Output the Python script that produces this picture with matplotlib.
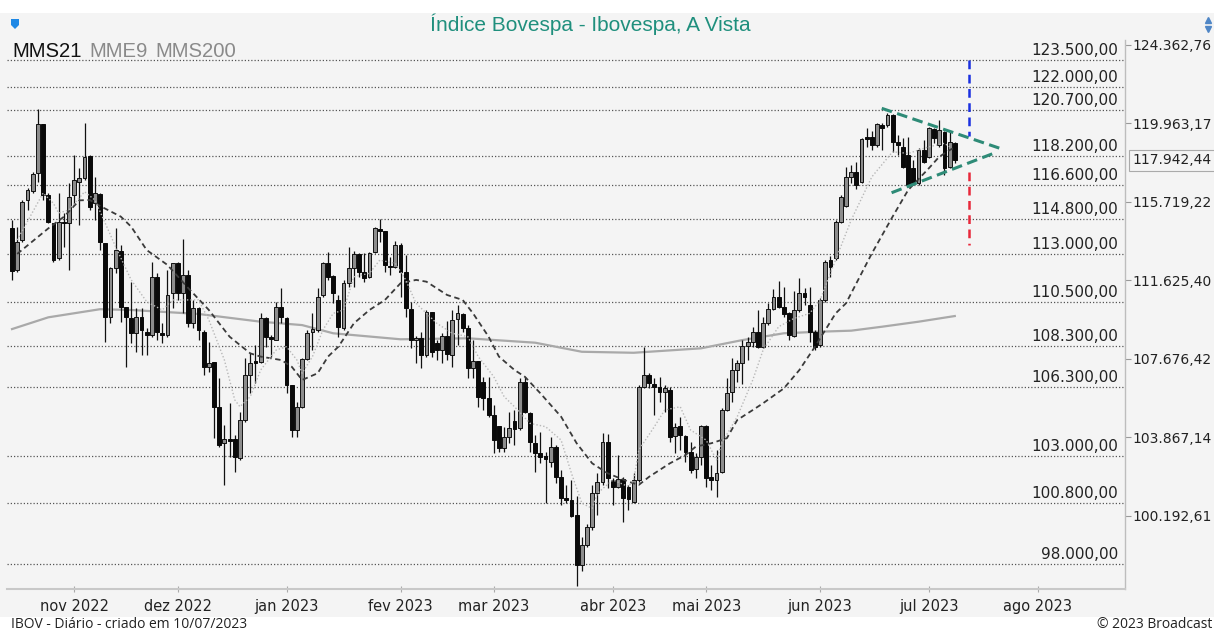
import numpy as np
import matplotlib
matplotlib.use("Agg")
import matplotlib.pyplot as plt
from matplotlib.lines import Line2D
from matplotlib.patches import Rectangle, Polygon
from matplotlib.ticker import NullLocator
import matplotlib.transforms as mtransforms

# ---------------- data (daily candles, IBOV, 14/10/2022 .. 10/07/2023) ----------------
opens = [114340, 112158, 113712, 115818, 116313, 117245, 119927, 116084, 114603, 112762,
         114670, 114587, 116084, 116794, 116976, 118180, 115643, 116120, 113572, 109781,
         112246, 113156, 110255, 109700, 108948, 109781, 109028, 108864, 111814, 108978,
         108864, 110965, 112504, 110965, 111901, 109450, 110205, 109028, 107292, 107538,
         105341, 103587, 103777, 103777, 102877, 104700, 106885, 107573, 107538, 109700,
         108780, 108614, 110255, 109731, 106395, 104221, 105341, 107657, 109028, 109113,
         110880, 112504, 111850, 110625, 109198, 111476, 112246, 112970, 112070, 111814,
         113104, 114271, 114183, 112364, 112330, 113452, 112070, 110155, 108614, 108699,
         107870, 110033, 108480, 108117, 108814, 107870, 109650, 109916, 109198, 107213,
         107587, 106556, 105745, 104941, 104413, 103349, 103901, 104666, 104302, 106556,
         105052, 103616, 103114, 102986, 102717, 103427, 102013, 101007, 100928, 100236,
         97963, 98866, 99700, 101239, 101780, 103663, 101858, 101547, 101890, 101547,
         100850, 101858, 106278, 106885, 106444, 106278, 106068, 106151, 103935, 104413,
         103935, 103190, 102359, 102953, 104427, 101983, 101858, 102246, 105182, 106068,
         107130, 107459, 108315, 108530, 109028, 108250, 109480, 110155, 110763, 110255,
         109951, 108814, 110119, 110965, 110372, 109028, 108365, 110625, 112674, 112762,
         114670, 115500, 117062, 117332, 116794, 119198, 119232, 118778, 119872, 119872,
         120424, 118957, 118684, 118234, 117515, 116708, 118505, 118142, 119635, 118778,
         119504, 117603, 118902]
highs = [114760, 114408, 115818, 116457, 117332, 120739, 119927, 116190, 114618, 116190,
         115130, 116708, 118234, 117515, 119998, 118234, 117062, 116190, 113572, 112330,
         114324, 113452, 110270, 111558, 110205, 110220, 109213, 112586, 112004, 109465,
         112158, 112519, 112586, 113748, 112158, 110625, 110286, 109113, 108530, 107538,
         106722, 104460, 105506, 103982, 105100, 107705, 107953, 108365, 109983, 109781,
         108864, 110539, 111221, 109781, 106395, 105583, 107705, 109113, 109951, 111221,
         112586, 113104, 111901, 110880, 111645, 113332, 113156, 113021, 113052, 113104,
         114408, 114797, 114183, 112845, 113676, 113572, 112933, 110539, 108814, 109028,
         110119, 110033, 108614, 108948, 109580, 110119, 110372, 109983, 109364, 108614,
         107587, 106804, 106804, 105423, 104413, 104380, 105100, 105182, 106722, 106804,
         105100, 103982, 104141, 103190, 103901, 103507, 102326, 101625, 101858, 101113,
         99243, 99824, 101625, 102172, 104061, 104030, 101937, 103034, 102013, 101625,
         102172, 106395, 108281, 106968, 106722, 106804, 106395, 106314, 104541, 104859,
         103982, 103663, 103114, 104460, 104460, 102561, 103270, 105264, 106722, 107705,
         107622, 108614, 108780, 109279, 110119, 109781, 110458, 111169, 111609, 111303,
         110033, 111063, 111732, 111221, 111303, 109113, 110712, 112674, 112900, 114760,
         116084, 117603, 117693, 117872, 119143, 119690, 119558, 119966, 119966, 120518,
         120479, 119323, 119143, 119232, 117963, 118597, 119050, 119780, 119690, 120147,
         119558, 119504, 118957]
lows = [111645, 112070, 113624, 115288, 116190, 116794, 115818, 114618, 112586, 112674,
        113364, 112158, 115553, 114497, 116885, 115288, 114760, 113192, 108530, 109450,
        111989, 109530, 107292, 108480, 108033, 107870, 107870, 108780, 108614, 108450,
        108780, 110205, 110625, 109951, 109279, 109198, 108614, 106885, 107047, 103825,
        103427, 101625, 102953, 102246, 102797, 104618, 105990, 106478, 107459, 108281,
        107785, 108614, 109450, 105990, 103873, 103901, 105264, 107622, 108117, 109028,
        110793, 111645, 110458, 108780, 109113, 111303, 111303, 111814, 111558, 111732,
        113021, 113624, 112070, 111901, 112246, 110793, 109781, 108201, 107459, 107213,
        107785, 107785, 107622, 107459, 107622, 107292, 108365, 109028, 106722, 106722,
        105341, 105182, 104859, 103114, 103190, 103190, 103587, 103507, 104221, 105023,
        103190, 102246, 102641, 100775, 102480, 101703, 100700, 100775, 100160, 97023,
        97708, 98789, 99548, 100236, 101625, 101471, 100700, 101471, 99928, 100466,
        100803, 101780, 106230, 106230, 104941, 105583, 105100, 103663, 103114, 103270,
        102717, 102172, 101937, 102561, 101547, 101392, 101080, 102172, 105148, 105583,
        106556, 106444, 107622, 108281, 108201, 108201, 109364, 110119, 110205, 109781,
        108614, 108749, 110033, 110372, 108530, 108117, 108281, 110539, 111814, 112674,
        114587, 115463, 116708, 116387, 116741, 118684, 118505, 118684, 118505, 119780,
        118413, 118234, 117515, 116495, 116618, 116618, 117785, 118054, 118870, 118684,
        117154, 117515, 117785]
closes = [112110, 113624, 115728, 116350, 117208, 119927, 116084, 114670, 112674, 114670,
          114618, 115993, 116885, 116976, 118109, 115463, 116173, 113624, 109781, 112246,
          113192, 110286, 109781, 108948, 109781, 109113, 108864, 111814, 109028, 108849,
          110880, 112504, 110965, 111901, 109450, 110205, 109113, 107292, 107489, 105341,
          103507, 103777, 103711, 102953, 104700, 106885, 107459, 107489, 109700, 108780,
          108649, 110255, 109781, 106395, 104221, 105341, 107657, 108978, 109148, 110793,
          112504, 111814, 110965, 109240, 111476, 112246, 112970, 112070, 111732, 113021,
          114324, 114198, 112416, 112297, 113452, 112070, 110205, 108614, 108729, 107870,
          110033, 108033, 108117, 108814, 107919, 109615, 109951, 109198, 107213, 107587,
          105826, 105745, 104941, 103744, 103349, 103901, 104302, 104255, 106556, 105100,
          103663, 103114, 102953, 102830, 103427, 102013, 101007, 100928, 100190, 97963,
          98866, 99672, 101239, 101780, 103663, 101937, 101547, 101890, 101007, 100960,
          101858, 106310, 106885, 106478, 106278, 106068, 106230, 103901, 104380, 103982,
          103190, 102326, 102953, 104427, 101937, 101858, 102200, 105182, 106020, 107130,
          107459, 108315, 108530, 109028, 108281, 109450, 110155, 110763, 110286, 109916,
          108864, 110119, 110965, 110763, 109028, 108281, 110625, 112586, 112330, 114670,
          115993, 117030, 117332, 116618, 119088, 119088, 118778, 119927, 119690, 120424,
          118957, 118778, 117603, 116618, 116708, 118505, 117872, 119690, 119143, 119597,
          117515, 118957, 117942.44]

# moving averages: (day index, value)
mms21_day = [1, 7, 10, 13, 15, 17, 21, 23, 26, 30, 34, 38, 42, 46, 48, 52, 54, 56, 59, 61,
             63, 66, 69, 72, 75, 78, 80, 82, 84, 87, 89, 92, 94, 97, 99, 102, 106, 109, 112,
             115, 119, 121, 123, 127, 130, 132, 135, 138, 140, 143, 145, 149, 152, 155, 159,
             161, 166, 170, 173, 177, 179, 181, 182]
mms21_val = [112990, 114320, 114930, 115800, 115820, 115500, 114940, 114410, 113190, 112420,
             111240, 110120, 108780, 107950, 107790, 107620, 107290, 106640, 106970, 107790,
             108280, 109450, 110120, 110630, 111480, 111650, 111560, 111220, 110880, 110630,
             109950, 108780, 107790, 107130, 106800, 105990, 104860, 103590, 102640, 102170,
             101780, 101630, 102010, 102640, 103030, 103430, 103590, 103830, 104700, 105180,
             105510, 106230, 107130, 108280, 109950, 110460, 113020, 114940, 116350, 117520,
             118140, 118500, 118650]
mme9_day = [1, 6, 8, 9, 11, 14, 16, 18, 20, 23, 26, 29, 31, 36, 38, 41, 43, 44, 46, 48, 51,
            53, 55, 56, 58, 60, 62, 64, 66, 69, 71, 74, 76, 78, 82, 85, 88, 90, 93, 95, 97,
            100, 103, 106, 108, 110, 112, 113, 116, 119, 120, 121, 124, 126, 129, 131, 134,
            136, 137, 140, 143, 145, 148, 151, 154, 156, 158, 162, 166, 170, 173, 177, 180, 181]
mme9_val = [113710, 116190, 115640, 115130, 115290, 116260, 115820, 114590, 113360, 111650,
            110540, 110120, 110630, 110630, 109620, 107620, 105670, 105340, 105830, 107130,
            108120, 108280, 107620, 106970, 107790, 109110, 109950, 110120, 111810, 111990,
            112670, 112500, 111650, 110460, 109450, 108950, 108780, 107790, 106800, 105830,
            105340, 104540, 104380, 103740, 102170, 100780, 100540, 101240, 101860, 101550,
            101860, 103270, 104380, 105180, 105340, 104220, 103740, 102800, 103590, 104860,
            106640, 108120, 109280, 109700, 109950, 110630, 112000, 114760, 117060, 118410,
            118320, 118680, 118870, 118680]
mms200_day = [0, 7, 17, 23, 36, 48, 56, 62, 75, 88, 101, 110, 120, 133, 141, 149, 156, 162,
              168, 175, 182]
mms200_val = [109160, 109750, 110160, 110120, 109920, 109530, 109360, 108950, 108650, 108700,
              108480, 108030, 107980, 108200, 108610, 108950, 109030, 109080, 109280, 109530,
              109815]

levels = [123500, 122000, 120700, 118200, 116600, 114800, 113000, 110500, 108300, 106300,
          103000, 100800, 98000]
axis_ticks = [124362.76, 119963.17, 115719.22, 111625.40, 107676.42, 103867.14, 100192.61]
month_day = [12, 32, 53, 75, 93, 116, 134, 156, 177, 198]
month_labels = ["nov 2022", "dez 2022", "jan 2023", "fev 2023", "mar 2023", "abr 2023",
                "mai 2023", "jun 2023", "jul 2023", "ago 2023"]

# drawn studies (triangle + targets)
tri_upper_day, tri_upper_val = [167.9, 190.7], [120794, 118598]
tri_lower_day, tri_lower_val = [169.8, 189.8], [116206, 118359]
target_day = 184.8
target_up = [123500, 119270]
target_down = [117315, 113452]


def fmt(v):
    s = f"{v:,.2f}"
    return s.replace(",", "X").replace(".", ",").replace("X", ".")


W, H = 1214, 632
fig = plt.figure(figsize=(W / 100, H / 100), dpi=100, facecolor="white")
fig.patches.append(Rectangle((0, (H - 617) / H), 1, (617 - 13) / H, transform=fig.transFigure,
                             facecolor="#f4f4f4", edgecolor="none", zorder=-10))

ax = fig.add_axes([7 / W, (H - 589) / H, (1125 - 7) / W, (589 - 40) / H])
ax.set_facecolor("#f4f4f4")
ax.set_yscale("log")
ax.set_ylim(96890, 124640)
ax.set_xlim(-0.97, 214.86)

# horizontal levels
for lv in levels:
    ax.axhline(lv, color="#555555", lw=0.9, ls=(0, (1, 1.6)), zorder=1)
    ax.annotate(fmt(lv), xy=(0.9937, lv), xycoords=("axes fraction", "data"),
                xytext=(0, 3.6), textcoords="offset points", ha="right", va="baseline",
                fontsize=11, color="#222222", family="DejaVu Sans", zorder=7)

# MMS200
ax.plot(mms200_day, mms200_val, color="#a9a9a9", lw=1.6, zorder=2)

# candles
o = np.array(opens, float)
h = np.array(highs, float)
l = np.array(lows, float)
c = np.array(closes, float)
x = np.arange(len(c))
up = c >= o
ax.vlines(x, l, h, color="#111111", lw=0.9, zorder=3)
bottom = np.minimum(o, c)
height = np.maximum(np.abs(c - o), 30)
ax.bar(x[up], height[up], bottom=bottom[up], width=0.74, color="#8c8c8c",
       edgecolor="#111111", linewidth=0.7, zorder=4)
ax.bar(x[~up], height[~up], bottom=bottom[~up], width=0.74, color="#0a0a0a",
       edgecolor="#0a0a0a", linewidth=0.7, zorder=4)

# moving averages
ax.plot(mms21_day, mms21_val, color="#3a3a3a", lw=1.3, ls=(0, (3, 2)), zorder=5)
ax.plot(mme9_day, mme9_val, color="#b8b8b8", lw=1.0, ls=(0, (1, 1.5)), zorder=5)

# triangle and targets
ax.plot(tri_upper_day, tri_upper_val, color="#2e8b77", lw=2.2, ls=(0, (3.5, 1.8)), zorder=6)
ax.plot(tri_lower_day, tri_lower_val, color="#2e8b77", lw=2.2, ls=(0, (3.5, 1.8)), zorder=6)
ax.plot([target_day, target_day], target_up, color="#1a30e0", lw=1.8, ls=(0, (3.5, 2.2)), zorder=6)
ax.plot([target_day, target_day], target_down, color="#e8283a", lw=1.8, ls=(0, (3.5, 2.2)), zorder=6)

# axes styling
for s in ["top", "left"]:
    ax.spines[s].set_visible(False)
ax.spines["right"].set_color("#bdbdbd")
ax.spines["right"].set_linewidth(1.0)
ax.spines["bottom"].set_color("#c8c8c8")
ax.spines["bottom"].set_linewidth(1.5)

ax.yaxis.tick_right()
ax.yaxis.set_minor_locator(NullLocator())
ax.set_yticks(axis_ticks)
ax.set_yticklabels([fmt(v) for v in axis_ticks])
ax.tick_params(axis="y", which="major", length=4, color="#999999", labelsize=10,
               labelcolor="#222222", pad=1.5)
for t in ax.get_yticklabels():
    t.set_family("DejaVu Sans")

ax.set_xticks(month_day)
ax.set_xticklabels(month_labels)
ax.tick_params(axis="x", length=4, color="#aaaaaa", direction="inout", labelsize=10.5,
               labelcolor="#222222", pad=5)

# last price box
last = closes[-1]
trans = mtransforms.blended_transform_factory(ax.transAxes, ax.transData)
ax.text(1 + 7 / 1118, last, fmt(last), transform=trans, ha="left", va="center",
        fontsize=10, color="#222222", family="DejaVu Sans", clip_on=False,
        bbox=dict(boxstyle="square,pad=0.25", fc="#f4f4f4", ec="#aaaaaa", lw=0.8))

# header texts
fig.text(590 / W, 1 - 24 / H, "Índice Bovespa - Ibovespa, A Vista", ha="center", va="center",
         color="#1f8f7d", fontsize=15, family="Liberation Sans")
fig.text(12 / W, 1 - 56.7 / H, "MMS21", ha="left", va="baseline", fontsize=14.6,
         family="Liberation Sans", color="#111111")
fig.text(89 / W, 1 - 56.7 / H, "MME9", ha="left", va="baseline", fontsize=14.6,
         family="Liberation Sans", color="#8a8a8a")
fig.text(155 / W, 1 - 56.7 / H, "MMS200", ha="left", va="baseline", fontsize=14.6,
         family="Liberation Sans", color="#8a8a8a")

# footer texts
fig.text(11 / W, 1 - 625 / H, "IBOV - Diário - criado em 10/07/2023", ha="left", va="center",
         fontsize=10, family="Open Sans", color="#222222")
fig.text(1212 / W, 1 - 625 / H, "© 2023 Broadcast", ha="right", va="center",
         fontsize=10, family="Open Sans", color="#222222")

# icons
shield = [(11, 19), (19, 19), (19, 25), (15, 29), (11, 25)]
fig.patches.append(Polygon([(px / W, 1 - py / H) for px, py in shield], closed=True,
                           transform=fig.transFigure, facecolor="#1e88e5", edgecolor="none"))
fig.add_artist(Line2D([1208 / W], [1 - 20 / H], marker="^", ms=5, color="#4f86c6",
                      transform=fig.transFigure, ls="none"))
fig.add_artist(Line2D([1208 / W], [1 - 29 / H], marker="v", ms=5, color="#4f86c6",
                      transform=fig.transFigure, ls="none"))

fig.savefig("out.png", dpi=100, facecolor="white")
